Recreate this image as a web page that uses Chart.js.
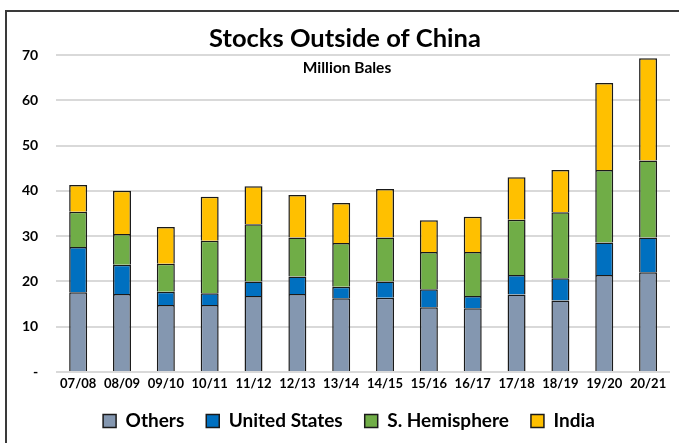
<!DOCTYPE html>
<html>
<head>
<meta charset="utf-8">
<script src="https://cdn.jsdelivr.net/npm/chart.js@4"></script>
<style>
  body { margin: 0; background: #fff; }
  #wrap { width: 679px; height: 443px; position: relative; }
</style>
</head>
<body>
<div id="wrap"><canvas id="stocksChart" width="679" height="443"></canvas></div>
<script>
var seasons = ["07/08", "08/09", "09/10", "10/11", "11/12", "12/13", "13/14", "14/15", "15/16", "16/17", "17/18", "18/19", "19/20", "20/21"];
var others = [17.6, 17.2, 14.8, 14.8, 16.8, 17.2, 16.3, 16.4, 14.3, 14.1, 17.1, 15.8, 21.4, 22.0];
var unitedStates = [10.0, 6.5, 2.9, 2.6, 3.2, 3.9, 2.5, 3.6, 4.0, 2.7, 4.3, 4.9, 7.2, 7.7];
var sHemisphere = [7.8, 6.8, 6.2, 11.6, 12.6, 8.6, 9.7, 9.7, 8.2, 9.7, 12.2, 14.6, 16.0, 17.0];
var india = [5.9, 9.5, 8.1, 9.7, 8.4, 9.4, 8.8, 10.7, 7.0, 7.8, 9.4, 9.3, 19.2, 22.6];
var yTicks = [0, 10, 20, 30, 40, 50, 60, 70];

var fontName = "Lato, 'Open Sans', sans-serif";

// frame, title and subtitle drawn straight on the canvas
var extras = {
    id: 'extras',
    beforeInit: function (chart) {
        // keep the legend strip short so the plot gets the height
        var origFit = chart.legend.fit;
        chart.legend.fit = function () {
            origFit.bind(chart.legend)();
            this.height = 48.5;
        };
    },
    afterLayout: function (chart) {
        // legend sits a little right of centre in the original
        chart.legend.left += 12;
        chart.legend.right += 12;
    },
    afterDraw: function (chart) {
        var ctx = chart.ctx;
        ctx.save();
        ctx.strokeStyle = '#3a3a3a';
        ctx.lineWidth = 2;
        ctx.beginPath();
        ctx.moveTo(6, 450);
        ctx.lineTo(6, 11);
        ctx.lineTo(690, 11);
        ctx.stroke();
        ctx.fillStyle = '#000';
        ctx.textAlign = 'center';
        ctx.textBaseline = 'middle';
        ctx.font = 'bold 25.5px ' + fontName;
        ctx.fillText('Stocks Outside of China', 345, 39);
        ctx.font = 'bold 15.5px ' + fontName;
        ctx.fillText('Million Bales', 347, 68);
        ctx.restore();
    }
};

function ds(label, data, color) {
    return {
        label: label,
        data: data,
        backgroundColor: color,
        borderColor: '#1a1a1a',
        borderWidth: 1.5,
        barPercentage: 0.41,
        categoryPercentage: 1.0
    };
}

var chartElement = new Chart(document.getElementById('stocksChart'), {
    type: 'bar',
    data: {
        labels: seasons,
        datasets: [
            ds('Others', others, '#8497B0'),
            ds('United States', unitedStates, '#0070C0'),
            ds('S. Hemisphere', sHemisphere, '#70AD47'),
            ds('India', india, '#FFC000')
        ]
    },
    plugins: [extras],
    options: {
        responsive: false,
        animation: false,
        layout: { padding: { left: 4, right: 9, top: 55, bottom: 5 } },
        plugins: {
            title: { display: false },
            legend: {
                position: 'bottom',
                labels: {
                    color: '#000',
                    font: { family: fontName, size: 19, weight: 'bold' },
                    boxWidth: 13,
                    boxHeight: 13,
                    padding: 22
                }
            },
            tooltip: { enabled: false }
        },
        scales: {
            x: {
                stacked: true,
                grid: { display: false, drawTicks: false },
                border: { display: false },
                afterFit: function (axis) { axis.height = 17.5; },
                ticks: {
                    color: '#000',
                    font: { family: fontName, size: 13, weight: 'bold' },
                    maxRotation: 0,
                    autoSkip: false,
                    padding: 4
                }
            },
            y: {
                stacked: true,
                min: 0,
                max: 70,
                afterBuildTicks: function (axis) {
                    axis.ticks = yTicks.map(function (v) { return { value: v }; });
                },
                grid: { color: '#d9d9d9', lineWidth: 2, drawTicks: false },
                border: { display: false },
                ticks: {
                    color: '#000',
                    font: { family: fontName, size: 14, weight: 'bold' },
                    padding: 18,
                    callback: function (v) { return v === 0 ? '-' : v; }
                }
            }
        }
    }
});
</script>
</body>
</html>
